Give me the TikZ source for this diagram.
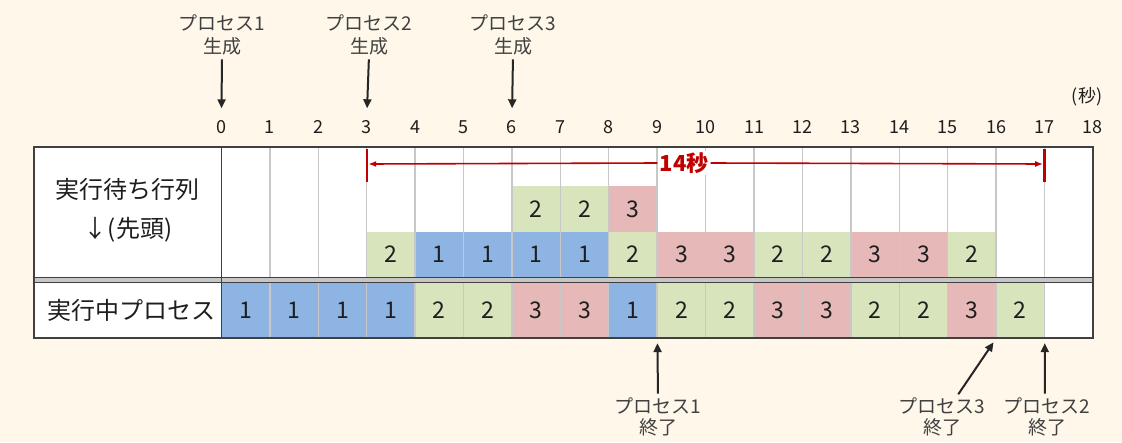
\documentclass[tikz,border=0pt]{standalone}
\usepackage{fontspec}
\setmainfont{Noto Sans CJK JP}
\usetikzlibrary{arrows.meta}
\definecolor{bg}{HTML}{FFF8EA}
\definecolor{pb}{HTML}{8DB4E2}
\definecolor{pg}{HTML}{D8E4BC}
\definecolor{pr}{HTML}{E6B8B7}
\definecolor{gridc}{HTML}{C8C8C8}
\definecolor{bord}{HTML}{404040}
\definecolor{dred}{HTML}{C00000}
\definecolor{txt}{HTML}{1E1E1E}
\tikzset{
  cell/.style={minimum width=48.42pt, inner sep=0pt, text=txt,
    font=\fontsize{23}{25}\selectfont},
  tick/.style={inner sep=0pt, text height=13pt, text depth=0pt, text=txt,
    font=\fontsize{18}{20}\selectfont},
  toplabel/.style={align=center, inner sep=0pt, text=bord,
    font=\fontsize{19}{23}\selectfont},
  botlabel/.style={align=center, inner sep=0pt, text=bord,
    font=\fontsize{19}{21}\selectfont},
  rowlabel/.style={inner sep=0pt, text=txt, font=\fontsize{24}{26}\selectfont},
  blkarrow/.style={line width=2pt, black!85, -{Triangle[length=9pt,width=8pt]}},
  redarrow/.style={line width=1.6pt, dred, -{Latex[length=8pt,width=6pt]}},
  gridline/.style={gridc, line width=1.4pt},
  border/.style={bord, line width=1.8pt},
}
\begin{document}
\begin{tikzpicture}[x=1pt,y=-1pt]
\fill[bg] (0,0) rectangle (1122,442);
\useasboundingbox (0,0) rectangle (1122,442);
\fill[white] (34,147) rectangle (1093,338);

% running row
\foreach \v/\c [count=\i from 0] in {1/pb,1/pb,1/pb,1/pb,2/pg,2/pg,3/pr,3/pr,1/pb,2/pg,2/pg,3/pr,3/pr,2/pg,2/pg,3/pr,2/pg}
  \node[cell, fill=\c, minimum height=55pt] (run\i) at ({221.4+(\i+0.5)*48.42},310.5) {\v};

% queue, lower row (head of queue)
\foreach \v/\c [count=\i from 3] in {2/pg,1/pb,1/pb,1/pb,1/pb,2/pg,3/pr,3/pr,2/pg,2/pg,3/pr,3/pr,2/pg}
  \node[cell, fill=\c, minimum height=45.5pt] (qa\i) at ({221.4+(\i+0.5)*48.42},254.5) {\v};

% queue, upper row
\foreach \v/\c [count=\i from 6] in {2/pg,2/pg,3/pr}
  \node[cell, fill=\c, minimum height=46pt] (qb\i) at ({221.4+(\i+0.5)*48.42},209) {\v};

% grid lines
\foreach \k in {1,...,17} {
  \draw[gridline] ({221.4+\k*48.42},147) -- ({221.4+\k*48.42},277);
  \draw[gridline] ({221.4+\k*48.42},283) -- ({221.4+\k*48.42},338);
}

% borders
\fill[gray!45] (34,277.5) rectangle (1093,282.5);
\draw[border] (34,277.5) -- (1093,277.5);
\draw[border] (34,282.5) -- (1093,282.5);
\draw[border] (221.4,147) -- (221.4,338);
\draw[border] (34,147) rectangle (1093,338);

% row labels
\node[rowlabel] (lq1) at (127,189) {実行待ち行列};
\node[rowlabel] (lq2) at (128,230) {↓(先頭)};
\node[rowlabel] (lrun) at (131,310) {実行中プロセス};

% time axis
\foreach \k in {0,...,18}
  \node[tick] (t\k) at ({221.4+\k*48.42},127) {\k};
\node[tick, text height=15pt, text depth=4pt] (unit) at (1087,97) {(秒)};

% creation labels and arrows
\node[toplabel] (c1) at (222,35) {プロセス1\\生成};
\node[toplabel] (c2) at (369,35) {プロセス2\\生成};
\node[toplabel] (c3) at (513,35) {プロセス3\\生成};
\draw[blkarrow, shorten <=4pt, shorten >=12pt] (c1.south) -- (t0.north);
\draw[blkarrow, shorten <=4pt, shorten >=12pt] (c2.south) -- (t3.north);
\draw[blkarrow, shorten <=4pt, shorten >=12pt] (c3.south) -- (t6.north);

% 14 seconds span
\coordinate (lb) at (368.2,164);
\coordinate (rb) at (1043.2,164);
\draw[dred, line width=2.6pt] (366.8,149) -- (366.8,182);
\draw[dred, line width=2.6pt] (1044.6,149) -- (1044.6,182);
\node[fill=white, text=dred, inner sep=2pt, font=\fontsize{22}{24}\selectfont\bfseries] (span) at (684,163) {14秒};
\draw[redarrow] (span.west) -- (lb);
\draw[redarrow] (span.east) -- (rb);

% termination labels and arrows
\node[botlabel] (e1) at (658,417) {プロセス1\\終了};
\node[botlabel] (e3) at (942,417) {プロセス3\\終了};
\node[botlabel] (e2) at (1047,417) {プロセス2\\終了};
\draw[blkarrow, shorten <=4pt, shorten >=5pt] (e1.north) -- (run8.south east);
\draw[blkarrow, shorten <=4pt, shorten >=5pt] ([xshift=14pt]e3.north) -- (run15.south east);
\draw[blkarrow, shorten <=4pt, shorten >=5pt] ([xshift=-2pt]e2.north) -- (run16.south east);
\end{tikzpicture}
\end{document}
